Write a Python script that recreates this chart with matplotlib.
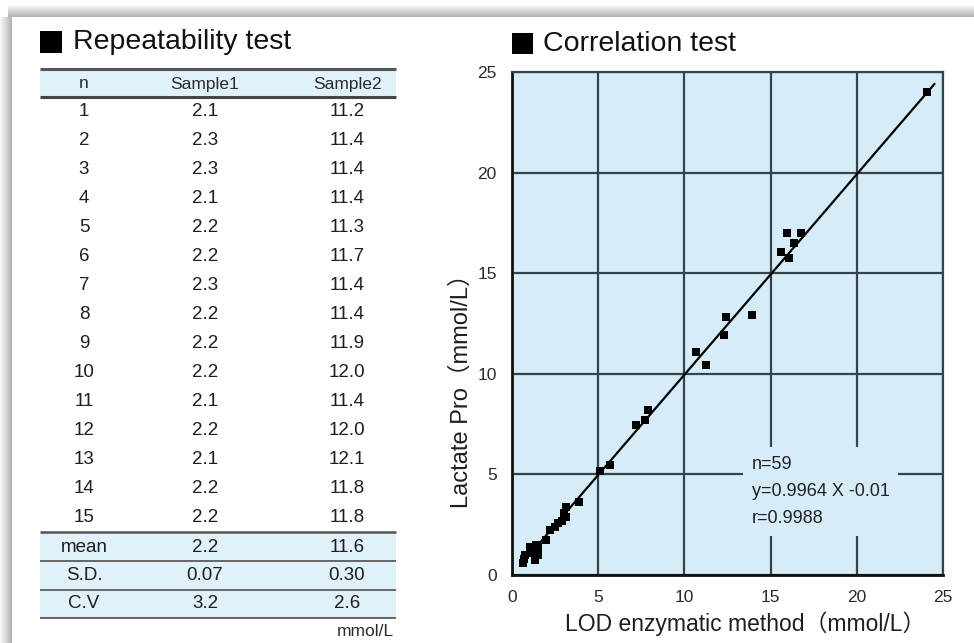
import matplotlib
matplotlib.use("Agg")
import matplotlib.pyplot as plt
from matplotlib.patches import Rectangle

plt.rcParams['font.family'] = ['Liberation Sans', 'Noto Sans CJK JP', 'DejaVu Sans']

# ---------------- data ----------------
table_cols = ["n", "Sample1", "Sample2"]
n_values = [str(i) for i in range(1, 16)]
sample1 = ["2.1", "2.3", "2.3", "2.1", "2.2", "2.2", "2.3", "2.2", "2.2", "2.2",
           "2.1", "2.2", "2.1", "2.2", "2.2"]
sample2 = ["11.2", "11.4", "11.4", "11.4", "11.3", "11.7", "11.4", "11.4", "11.9",
           "12.0", "11.4", "12.0", "12.1", "11.8", "11.8"]
summary_labels = ["mean", "S.D.", "C.V"]
summary_s1 = ["2.2", "0.07", "3.2"]
summary_s2 = ["11.6", "0.30", "2.6"]

lod_x = [0.65, 0.75, 1.04, 1.33, 1.52, 1.52, 2.0, 2.2, 2.68, 3.16, 3.16, 3.87,
         0.7, 1.1, 1.4, 2.5, 2.9, 3.0,
         5.09, 5.66, 7.2, 7.69, 7.88,
         10.69, 11.27, 12.31, 12.43, 13.93,
         15.95, 16.76, 16.36, 15.61, 16.07, 24.1]
lactate_y = [0.58, 1.0, 1.41, 0.75, 1.41, 1.0, 1.74, 2.24, 2.57, 2.9, 3.4, 3.65,
             0.8, 1.1, 1.5, 2.4, 2.7, 3.1,
             5.19, 5.47, 7.46, 7.71, 8.2,
             11.09, 10.45, 11.94, 12.84, 12.94,
             17.01, 17.01, 16.52, 16.07, 15.77, 24.03]
slope = 0.9964
intercept = -0.01
line_x = [0.5, 24.5]
axis_ticks = [0, 5, 10, 15, 20, 25]
stats_text = "n=59\ny=0.9964 X -0.01\nr=0.9988"

# ---------------- figure ----------------
W, H = 974, 643
fig = plt.figure(figsize=(W / 100, H / 100), dpi=100)
fig.patch.set_facecolor("white")

bg = fig.add_axes([0, 0, 1, 1], zorder=0)
bg.set_xlim(0, W)
bg.set_ylim(H, 0)
bg.axis("off")

# frame shadow (top band and left band)
for i in range(12):
    a = 0.05 + 0.045 * i
    bg.add_patch(Rectangle((8, 5 + i), W, 1, color=(0.45, 0.45, 0.45), alpha=a, lw=0))
    bg.add_patch(Rectangle((0 + i, 17), 1, H, color=(0.45, 0.45, 0.45), alpha=a, lw=0))

txt = "#1e1e1e"
blue_band = "#e0f1fa"

# ---- Repeatability table ----
bg.add_patch(Rectangle((40, 31), 22, 22, color="black", lw=0))
bg.text(73, 42, "Repeatability test", fontsize=20.5, va="center", ha="left", color="#111")

tx0, tx1 = 40, 396
col_x = [84, 205, 347]
bg.add_patch(Rectangle((tx0, 70), tx1 - tx0, 27, color=blue_band, lw=0))
bg.add_patch(Rectangle((tx0, 533), tx1 - tx0, 85, color=blue_band, lw=0))
for cx, lab in zip(col_x, table_cols):
    bg.text(cx, 84, lab, fontsize=12.5, ha="center", va="center", color="#2a2a2a")

row_y = [111 + 29.07 * i for i in range(15)]
for y, a, b, c in zip(row_y, n_values, sample1, sample2):
    bg.text(col_x[0], y, a, fontsize=13.5, ha="center", va="center", color=txt)
    bg.text(col_x[1], y, b, fontsize=13.5, ha="center", va="center", color=txt)
    bg.text(col_x[2], y, c, fontsize=13.5, ha="center", va="center", color=txt)

sum_y = [547, 576, 604]
for y, a, b, c in zip(sum_y, summary_labels, summary_s1, summary_s2):
    bg.text(col_x[0], y, a, fontsize=13.5, ha="center", va="center", color=txt)
    bg.text(col_x[1], y, b, fontsize=13.5, ha="center", va="center", color=txt)
    bg.text(col_x[2], y, c, fontsize=13.5, ha="center", va="center", color=txt)

for y, lw, col in [(69, 2.2, "#555"), (97, 2.2, "#444"), (532, 1.8, "#555"),
                   (561, 1.4, "#666"), (590, 1.4, "#666"), (618, 1.4, "#666")]:
    bg.plot([tx0, tx1], [y, y], color=col, lw=lw, solid_capstyle="butt")

bg.text(394, 632, "mmol/L", fontsize=12.5, ha="right", va="center", color="#2a2a2a")

# ---- Correlation plot ----
bg.add_patch(Rectangle((512, 33), 21, 21, color="black", lw=0))
bg.text(543, 44, "Correlation test", fontsize=20.5, va="center", ha="left", color="#111")

ax = fig.add_axes([512 / W, 1 - 575 / H, (943 - 512) / W, (575 - 72) / H], zorder=2)
ax.set_facecolor("#d6edf9")
ax.set_xlim(0, 25)
ax.set_ylim(0, 25)
ax.set_xticks(axis_ticks)
ax.set_yticks(axis_ticks)
ax.tick_params(length=0, labelsize=12.5, colors="#2a2a2a", pad=11)
ax.grid(True, color="#34444a", lw=1.6)
for s in ax.spines.values():
    s.set_color("#34444a")
    s.set_linewidth(1.6)
ax.spines["left"].set_color("#111")
ax.spines["bottom"].set_color("#111")
ax.spines["left"].set_linewidth(2)
ax.spines["bottom"].set_linewidth(2)

ly = [slope * v + intercept for v in line_x]
ax.plot(line_x, ly, color="black", lw=1.6, zorder=3)
ax.scatter(lod_x, lactate_y, marker="s", s=38, color="black", zorder=4, lw=0)

ax.text(13.9, 4.15, stats_text, fontsize=13, ha="left", va="center", color="#222",
        linespacing=1.8, zorder=5,
        bbox=dict(facecolor="#d6edf9", edgecolor="none", pad=6))

ax.set_xlabel("LOD enzymatic method（mmol/L）", fontsize=16.5, color="#1e1e1e")
ax.xaxis.set_label_coords((745 - 512) / 431, (575 - 624) / 503)
ax.set_ylabel("Lactate Pro（mmol/L）", fontsize=17, color="#1e1e1e")
ax.yaxis.set_label_coords((462 - 512) / 431, (575 - 385) / 503)
ax.xaxis.label.set_va("center")
ax.yaxis.label.set_va("center")

fig.savefig("out.png", dpi=100)
